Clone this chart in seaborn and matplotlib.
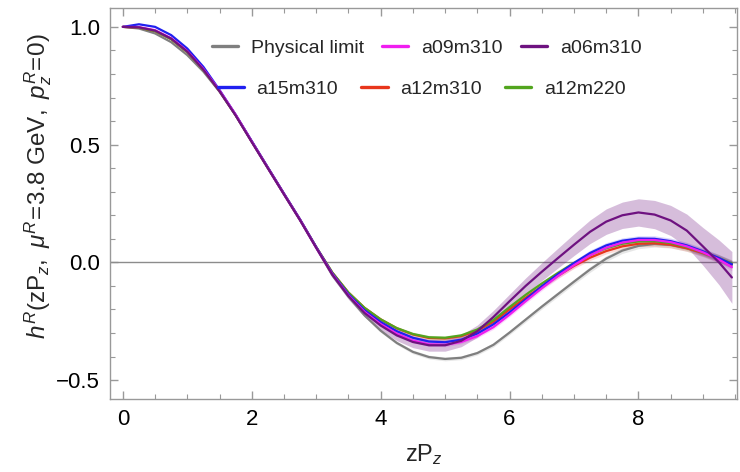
import numpy as np
import pandas as pd
import matplotlib
matplotlib.use("Agg")
import matplotlib.pyplot as plt
from matplotlib.lines import Line2D
from matplotlib.ticker import MultipleLocator, FuncFormatter
import seaborn as sns

# ---- data ----
zpz = [0.0, 0.25, 0.5, 0.75, 1.0, 1.25, 1.5, 1.75, 2.0, 2.25, 2.5, 2.75,
       3.0, 3.25, 3.5, 3.75, 4.0, 4.25, 4.5, 4.75, 5.0, 5.25, 5.5, 5.75,
       6.0, 6.25, 6.5, 6.75, 7.0, 7.25, 7.5, 7.75, 8.0, 8.25, 8.5, 8.75,
       9.0, 9.25, 9.45]

physical = [1.0, 0.993, 0.972, 0.935, 0.88, 0.81, 0.725, 0.625, 0.513,
            0.40, 0.289, 0.179, 0.063, -0.055, -0.145, -0.225, -0.29,
            -0.342, -0.38, -0.402, -0.41, -0.405, -0.385, -0.35, -0.298,
            -0.243, -0.188, -0.135, -0.082, -0.03, 0.016, 0.05, 0.07, 0.078,
            0.074, 0.06, 0.038, 0.012, -0.01]
a12m220 = [1.0, 0.997, 0.982, 0.948, 0.893, 0.818, 0.728, 0.625, 0.513,
           0.402, 0.291, 0.181, 0.065, -0.043, -0.128, -0.193, -0.242,
           -0.279, -0.304, -0.318, -0.32, -0.31, -0.285, -0.245, -0.19,
           -0.138, -0.09, -0.045, -0.003, 0.033, 0.06, 0.079, 0.089, 0.09,
           0.082, 0.065, 0.043, 0.018, -0.005]
a12m310 = [1.0, 0.997, 0.982, 0.948, 0.893, 0.818, 0.728, 0.625, 0.513,
           0.402, 0.291, 0.181, 0.065, -0.043, -0.128, -0.193, -0.242,
           -0.28, -0.306, -0.321, -0.323, -0.313, -0.29, -0.252, -0.2,
           -0.15, -0.102, -0.057, -0.015, 0.02, 0.048, 0.068, 0.079, 0.081,
           0.075, 0.06, 0.04, 0.016, -0.008]
a09m310 = [1.0, 0.999, 0.986, 0.952, 0.897, 0.821, 0.73, 0.627, 0.513,
           0.401, 0.29, 0.18, 0.062, -0.05, -0.14, -0.21, -0.262, -0.303,
           -0.332, -0.348, -0.35, -0.338, -0.313, -0.275, -0.222, -0.165,
           -0.11, -0.058, -0.012, 0.03, 0.062, 0.084, 0.095, 0.095, 0.086,
           0.068, 0.043, 0.012, -0.02]
a15m310 = [1.0, 1.011, 1.0, 0.965, 0.908, 0.83, 0.732, 0.627, 0.515, 0.403,
           0.292, 0.182, 0.065, -0.047, -0.135, -0.203, -0.253, -0.292,
           -0.32, -0.336, -0.339, -0.328, -0.302, -0.263, -0.212, -0.157,
           -0.102, -0.05, -0.003, 0.04, 0.072, 0.092, 0.101, 0.10, 0.09,
           0.072, 0.047, 0.018, -0.008]
a06m310 = [1.0, 0.998, 0.984, 0.95, 0.895, 0.818, 0.727, 0.624, 0.511, 0.40,
           0.289, 0.179, 0.062, -0.052, -0.143, -0.215, -0.268, -0.31,
           -0.338, -0.352, -0.352, -0.333, -0.292, -0.232, -0.165, -0.10,
           -0.04, 0.018, 0.075, 0.13, 0.173, 0.20, 0.212, 0.203, 0.178,
           0.135, 0.068, 0.0, -0.064]

err_a06m310 = [0.0, 0.002, 0.004, 0.006, 0.008, 0.009, 0.01, 0.01, 0.01,
               0.01, 0.01, 0.01, 0.01, 0.012, 0.014, 0.017, 0.02, 0.022,
               0.024, 0.025, 0.025, 0.025, 0.026, 0.028, 0.03, 0.034, 0.038,
               0.042, 0.046, 0.05, 0.054, 0.056, 0.058, 0.06, 0.064, 0.07,
               0.08, 0.095, 0.11]
err_small = [0.0, 0.001, 0.001, 0.002, 0.002, 0.003, 0.003, 0.003, 0.004,
             0.004, 0.004, 0.004, 0.005, 0.005, 0.006, 0.006, 0.007, 0.007,
             0.008, 0.008, 0.008, 0.008, 0.008, 0.009, 0.009, 0.01, 0.01,
             0.011, 0.011, 0.012, 0.012, 0.012, 0.012, 0.013, 0.013, 0.013,
             0.014, 0.015, 0.016]

series_names = ["Physical limit", "a12m310", "a12m220", "a15m310", "a09m310",
                "a06m310"]
series_vals = [physical, a12m310, a12m220, a15m310, a09m310, a06m310]
series_errs = [err_small, err_small, err_small, err_small, err_small,
               err_a06m310]
colors = {"Physical limit": "#7f7f7f", "a09m310": "#f01ef0",
          "a06m310": "#6e1280", "a15m310": "#2020f0",
          "a12m310": "#e8361c", "a12m220": "#52a51e"}

rows = []
for name, vals, errs in zip(series_names, series_vals, series_errs):
    for x, v, e in zip(zpz, vals, errs):
        rows.append({"zPz": x, "h": v, "err": e, "series": name})
df = pd.DataFrame(rows)

# ---- plotting ----
sns.set_theme(style="white")
plt.rcParams["font.family"] = ["Liberation Sans", "DejaVu Sans"]
plt.rcParams["mathtext.fontset"] = "custom"
plt.rcParams["mathtext.rm"] = "Liberation Sans"
plt.rcParams["mathtext.it"] = "Liberation Sans:italic"

fig = plt.figure(figsize=(7.4, 4.72), dpi=100)
ax = fig.add_axes([0.1486, 0.1547, 0.8474, 0.8283])

ax.axhline(0, color="#8c8c8c", lw=1.0, zorder=1)

for name in series_names:
    sub = df[df["series"] == name]
    alpha = 0.28 if name == "a06m310" else 0.18
    ax.fill_between(sub["zPz"], sub["h"] - sub["err"], sub["h"] + sub["err"],
                    color=colors[name], alpha=alpha, lw=0, zorder=2)

sns.lineplot(data=df, x="zPz", y="h", hue="series", hue_order=series_names,
             palette=colors, lw=1.6, ax=ax, legend=False, zorder=3,
             sort=False)

ax.set_xlim(-0.2, 9.53)
ax.set_ylim(-0.58, 1.08)
ax.xaxis.set_major_locator(MultipleLocator(2))
ax.xaxis.set_minor_locator(MultipleLocator(0.5))
ax.yaxis.set_major_locator(MultipleLocator(0.5))
ax.yaxis.set_minor_locator(MultipleLocator(0.1))
ax.yaxis.set_major_formatter(FuncFormatter(
    lambda v, p: f"{v:.1f}".replace("-", "\u2212")))
ax.tick_params(which="both", direction="in", top=True, right=True,
               bottom=True, left=True, colors="#999999", labelcolor="black",
               labelsize=16)
ax.tick_params(which="major", length=6, width=1, pad=7)
ax.tick_params(which="minor", length=3.5, width=0.8)
for s in ax.spines.values():
    s.set_color("#999999")
    s.set_linewidth(1.0)

ax.set_xlabel(r"$\mathrm{zP}_z$", fontsize=17)
ax.xaxis.set_label_coords(0.5, -0.11)
ax.set_ylabel(r"$h^R(\mathrm{zP}_z,\ \mu^R\!=\!3.8\ \mathrm{GeV},\ p_z^R\!=\!0)$",
              fontsize=17.5)
ax.yaxis.set_label_coords(-0.09, 0.545)

def handles(names):
    return [Line2D([0], [0], color=colors[n], lw=2.4) for n in names]

row1 = ["Physical limit", "a09m310", "a06m310"]
row2 = ["a15m310", "a12m310", "a12m220"]
leg1 = ax.legend(handles(row1), row1, ncol=3, frameon=False, fontsize=14,
                 loc="center", bbox_to_anchor=(0.505, 0.898),
                 handlelength=1.35, handletextpad=0.65, columnspacing=0.95)
ax.add_artist(leg1)
ax.legend(handles(row2), row2, ncol=3, frameon=False, fontsize=14,
          loc="center", bbox_to_anchor=(0.497, 0.793),
          handlelength=1.35, handletextpad=0.65, columnspacing=1.2)

fig.savefig("out.png", dpi=100)
